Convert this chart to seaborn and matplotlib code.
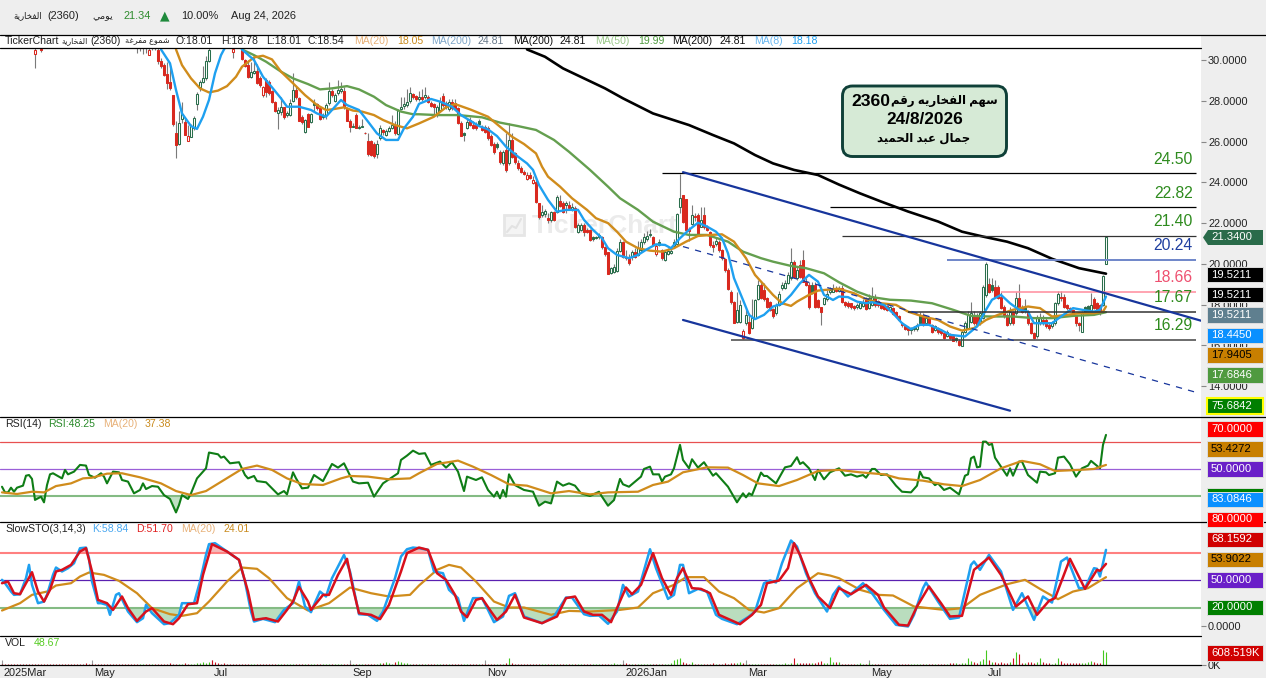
import numpy as np
import pandas as pd
import matplotlib
matplotlib.use("Agg")
import matplotlib.pyplot as plt
import seaborn as sns
from matplotlib.patches import Rectangle, FancyBboxPatch, Polygon
from matplotlib.transforms import Affine2D, ScaledTranslation
from matplotlib.lines import Line2D

nan = float("nan")

# ---- candles, one entry per trading bar (nan = above the visible range)
opens = [nan]*11 + [30.3, nan, 30.55] + [nan]*31 + [
 31,31,31,30.7,30.25,30.9,30.8,30.49,29.95,29.75,
 29.3,28.94,28.28,26.4,25.88,27.1,26.97,26.05,26.24,26.65,
 27.84,28.66,28.9,29.1,29.95] + [nan]*7 + [30.4] + [nan]*2 + [
 30.49,30.0,29.75,29.18,29.35,29.46,29.1,28.28,29.0,28.94,
 28.48,27.96,27.4,27.47,27.68,27.3,27.3,28.0,28.53,28.12,
 27.22,26.45,27.34,26.94,27.87,27.84,27.63,27.22,27.3,27.9,
 28.48,28.0,28.4,28.5,28.5,27.62,27.03,26.7,27.3,26.68,
 26.72,26.44,26.04,26.04,25.9,25.39,26.16,26.55,26.3,26.52,
 26.65,26.8,26.37,27.6,27.75,27.8,27.99,28.33,28.25,28.1,
 28.2,28.2,28.2,27.87,27.82,27.42,27.55,28.23,27.87,27.58,
 27.92,27.87,27.63,26.93,26.4,26.65,27.06,26.81,26.81,27.0,
 26.73,26.73,26.65,26.27,25.9,25.9,25.5,24.93,25.59,24.93,
 26.08,25.42,24.93,24.69,24.53,24.15,24.36,23.95,24.0,22.97,
 22.4,22.45,22.24,22.16,22.53,22.56,23.07,22.97,22.9,22.89,
 22.65,22.73,21.58,21.66,21.91,21.66,21.66,21.3,21.3,21.3,
 21.3,20.85,20.57,19.54,19.62,19.67,20.65,21.06,20.36,20.36,
 20.36,20.57,20.44,20.68,21.09,21.2,21.4,21.3,20.49,21.06,
 20.68,20.2,20.5,20.55,20.9,21.0,22.8,23.38,23.18,21.7,
 21.94,22.3,22.4,21.83,22.4,21.83,21.55,20.93,21.0,21.08,
 20.7,20.23,19.7,18.6,18.12,17.17,17.17,16.35,17.12,17.17,
 16.85,17.33,18.3,18.97,18.72,18.31,18.15,17.78,17.58,17.99,
 18.8,18.8,19.05,19.3,20.08,19.3,19.95,20.2,19.13,18.97,
 18.97,18.97,18.23,17.87,18.04,18.28,18.6,18.64,18.8,18.65,
 18.81,18.15,18.1,18.07,17.94,17.88,17.83,17.94,18.32,17.83,
 17.99,18.37,18.2,18.07,18.07,17.94,17.75,17.83,17.66,17.45,
 17.09,16.93,16.85,16.85,16.82,16.8,17.5,17.5,17.09,17.33,
 17.01,16.76,16.85,16.76,16.6,16.44,16.52,16.47,16.36,16.24,
 15.98,16.68,16.85,17.17,17.5,17.42,17.09,17.33,18.48,19.02,
 18.97,18.89,18.89,18.4,17.91,17.5,17.09,17.63,17.58,18.32,
 17.91,17.83,17.66,17.09,16.6,16.44,17.09,17.25,17.25,17.01,
 16.93,17.09,18.07,18.4,18.4,17.99,17.85,17.75,17.45,17.09,
 16.68,17.91,17.94,17.75,18.27,18.07,17.99,17.99,20.0]

closes = [nan]*11 + [30.5, nan, 30.5] + [nan]*31 + [
 31,31,31,30.8,30.5,30.8,30.6,29.95,29.7,29.26,
 28.86,28.61,26.86,25.83,26.9,27.33,26.32,26.27,26.76,27.14,
 28.33,28.9,29.1,29.95,30.49] + [nan]*7 + [30.55] + [nan]*2 + [
 30.05,29.72,29.15,29.43,29.46,28.86,28.78,28.69,28.45,28.37,
 27.92,27.5,27.55,27.68,27.19,27.38,27.87,28.53,28.17,27.03,
 26.98,27.06,26.73,27.34,27.79,27.63,27.09,27.3,27.8,28.48,
 28.28,28.3,28.55,28.56,27.68,27.03,26.73,26.78,26.65,26.72,
 26.76,26.4,25.39,25.34,25.3,25.9,26.65,26.45,26.5,26.68,
 26.8,26.4,27.55,27.7,27.83,27.96,28.37,28.2,28.1,28.2,
 28.1,28.28,27.96,27.74,27.71,27.72,27.95,27.79,27.68,27.92,
 27.63,27.62,26.93,26.29,26.32,26.98,26.81,26.68,26.66,26.87,
 26.57,26.48,26.16,25.83,25.5,25.72,25.0,25.5,24.6,26.08,
 25.26,25.0,24.69,24.53,24.41,24.36,24.2,24.1,23.05,22.29,
 22.53,22.6,22.16,22.53,22.16,23.27,22.84,22.56,22.97,22.73,
 22.78,21.83,21.91,21.91,21.58,21.55,21.18,21.2,21.25,21.42,
 20.82,20.49,19.51,19.79,19.84,20.65,21.06,20.36,20.28,20.03,
 20.57,20.36,20.76,21.09,21.3,21.35,21.45,20.95,20.88,20.93,
 20.28,20.6,20.62,20.65,21.05,22.45,23.22,22.07,21.67,21.6,
 22.4,22.35,21.42,22.16,21.8,21.67,20.93,20.82,21.12,20.68,
 20.28,19.7,18.76,18.12,17.12,17.74,17.99,16.72,17.5,16.6,
 17.33,18.23,18.97,18.32,18.28,17.9,17.74,17.42,17.99,18.53,
 18.97,19.05,19.46,20.08,19.38,19.7,19.38,19.13,18.97,17.87,
 18.6,17.9,17.88,17.66,18.31,18.53,18.7,18.8,18.65,18.75,
 18.15,17.99,17.94,17.88,17.83,17.99,18.07,18.1,17.78,18.32,
 18.43,17.99,17.97,17.83,17.78,17.75,17.9,17.55,17.45,17.25,
 16.98,16.8,16.76,16.78,16.85,17.01,17.09,17.01,17.33,17.09,
 16.68,16.93,16.68,16.6,16.36,16.68,16.36,16.24,16.26,16.03,
 16.68,17.09,17.5,17.58,17.09,17.01,17.58,18.89,20.0,18.64,
 18.73,18.4,18.32,17.83,17.42,17.01,17.66,17.09,18.32,17.83,
 17.66,17.75,17.09,16.6,16.36,17.33,17.39,17.09,16.93,16.85,
 17.09,18.07,18.51,18.32,17.91,17.83,17.75,17.55,17.09,17.01,
 17.58,17.66,17.7,17.99,17.83,17.66,17.58,19.41,21.31]

highs = [nan]*11 + [31.0, nan, 30.8] + [nan]*31 + [
 31,31,31,31,31,31,31,30.8,30.1,29.85,
 29.9,29.7,28.3,27.0,27.5,27.95,27.1,26.8,26.85,27.25,
 28.45,29.0,29.7,30.2,30.6] + [nan]*7 + [31.0] + [nan]*2 + [
 30.8,30.05,30.0,29.9,30.2,29.8,29.2,28.75,29.1,29.0,
 28.55,28.0,27.7,28.2,27.7,27.5,28.1,29.35,28.7,28.2,
 27.3,27.1,27.4,27.4,28.1,27.9,27.7,27.4,27.9,28.94,
 28.6,28.4,29.0,28.9,28.7,27.7,27.1,26.9,27.4,26.8,
 27.1,26.45,26.4,26.1,26.0,26.1,26.8,26.6,26.6,26.75,
 27.3,27.0,27.6,28.2,28.2,28.6,28.7,28.4,28.3,28.5,
 28.6,28.7,28.3,28.0,27.9,27.8,28.2,28.4,28.0,28.1,
 28.1,28.1,27.7,27.0,26.45,27.1,27.2,27.0,26.95,27.1,
 26.8,26.8,26.75,26.35,26.0,26.0,25.6,25.6,26.4,26.9,
 26.4,25.5,25.1,24.8,24.6,24.5,24.5,24.3,24.1,23.0,
 22.9,22.7,22.5,22.6,22.6,23.4,23.4,23.1,23.1,23.1,
 23.0,22.85,22.0,22.0,22.0,21.75,21.7,21.35,21.35,21.5,
 21.35,20.9,20.6,19.85,20.0,20.8,21.2,21.1,20.7,20.5,
 20.7,20.8,21.1,21.2,21.5,21.6,21.7,21.35,21.0,21.2,
 20.75,20.7,20.8,20.75,21.2,22.5,24.41,23.4,23.2,21.8,
 22.9,22.5,22.5,22.8,22.8,21.9,21.6,21.1,21.3,21.15,
 20.75,20.3,19.8,18.7,18.2,18.6,18.25,16.8,17.8,17.6,
 18.3,18.3,19.2,19.1,19.05,18.4,18.2,17.85,18.1,18.65,
 19.1,19.2,19.6,20.8,20.2,19.9,20.2,20.7,19.3,19.1,
 19.1,19.1,18.3,17.9,18.4,18.7,18.85,19.0,18.9,18.9,
 18.95,18.2,18.2,18.1,18.0,18.1,18.2,18.3,18.4,18.5,
 18.85,18.5,18.25,18.1,18.1,18.0,17.95,17.9,17.7,17.5,
 17.15,17.0,16.95,16.9,16.95,17.1,17.65,17.6,17.5,17.4,
 17.05,17.0,16.9,16.8,16.65,16.75,16.6,16.5,16.4,16.3,
 16.75,17.2,17.7,18.15,17.7,17.6,17.7,18.95,20.1,19.3,
 19.3,19.2,18.95,18.6,18.0,17.6,17.9,17.7,18.6,19.0,
 18.0,18.3,17.75,17.15,16.65,17.5,17.6,17.5,17.35,17.1,
 17.2,18.15,18.65,18.65,18.5,18.05,17.9,17.8,17.5,17.15,
 17.7,17.95,18.0,18.55,18.4,18.15,18.05,19.45,21.34]

lows = [nan]*11 + [29.6, nan, 30.4] + [nan]*31 + [
 30.33,30.45,30.3,30.35,30.25,30.5,30.5,29.8,29.6,29.2,
 28.6,28.55,26.76,25.18,25.85,26.9,26.3,26.05,26.2,26.55,
 27.55,28.5,28.85,29.0,29.9] + [nan]*7 + [30.08] + [nan]*2 + [
 30.0,29.65,29.1,29.1,29.3,28.8,28.7,28.2,28.2,28.3,
 27.9,27.45,26.6,27.3,27.1,27.2,27.25,27.95,28.1,27.0,
 26.85,26.4,26.7,26.9,27.5,27.55,27.05,27.1,27.1,27.8,
 28.2,27.95,28.3,28.4,27.6,27.0,26.45,26.7,26.65,26.6,
 26.7,26.35,25.3,25.3,25.18,25.2,26.1,26.3,26.25,26.45,
 26.6,26.3,26.3,27.55,27.6,27.7,27.9,28.1,28.0,28.0,
 28.0,28.1,27.9,27.7,27.3,27.2,27.5,27.7,27.6,27.5,
 27.55,27.55,26.85,26.25,26.05,26.6,26.75,26.6,26.55,26.8,
 26.5,26.4,26.1,25.8,25.4,25.65,24.9,24.85,24.5,24.85,
 25.2,24.9,24.6,24.45,24.35,24.1,24.15,23.9,23.0,22.2,
 22.3,22.3,22.0,22.05,22.1,22.5,22.8,22.5,22.5,22.65,
 22.6,21.75,21.5,21.6,21.35,21.5,21.1,21.1,21.2,21.2,
 20.75,20.4,19.5,19.5,19.55,19.6,20.6,20.3,20.2,19.95,
 20.2,20.3,20.4,20.6,21.0,21.1,21.3,20.9,20.4,20.9,
 20.2,20.15,20.45,20.5,20.8,21.0,22.5,22.0,21.6,21.1,
 21.9,22.1,21.4,21.8,21.7,21.6,20.85,20.6,20.9,20.6,
 20.2,19.6,18.7,18.05,17.1,17.1,17.1,16.3,17.0,16.55,
 16.8,17.3,18.25,18.3,18.2,17.85,17.7,17.35,17.5,17.95,
 18.7,18.75,19.0,19.2,19.3,19.2,19.3,19.1,18.9,17.8,
 18.5,17.85,17.85,17.0,18.0,18.2,18.5,18.6,18.6,18.6,
 18.1,17.9,17.85,17.8,17.75,17.8,17.8,17.9,17.75,17.8,
 17.95,17.9,17.9,17.8,17.75,17.7,17.7,17.5,17.4,17.2,
 16.9,16.75,16.5,16.55,16.7,16.7,17.05,16.95,17.0,17.0,
 16.6,16.7,16.55,16.5,16.3,16.4,16.3,16.2,16.15,15.95,
 15.95,16.6,16.8,17.1,17.0,16.95,17.0,17.3,18.4,18.55,
 18.6,18.35,18.3,17.8,17.35,16.95,17.0,17.0,17.5,17.8,
 17.6,17.6,17.0,16.55,16.3,16.35,17.0,17.0,16.85,16.75,
 16.85,17.0,18.0,18.2,17.85,17.75,17.7,17.5,16.95,16.7,
 16.65,17.6,17.6,17.7,17.8,17.6,17.5,17.95,19.99]

volume_k = [
 40,35,45,30,35,40,30,45,35,40, 45,55,40,60,35,30,40,35,45,40,
 40,45,35,50,40,55,45,60,75,50, 60,40,35,30,40,35,30,45,35,30,
 35,30,40,35,30,45,60,50,40,55, 60,45,50,70,60,50,80,60,55,65,
 50,75,60,55,65,90,110,130,95,160, 235,120,90,60,75,50,60,45,55,40,
 45,50,35,60,40,45,55,40,50,35, 40,45,35,50,40,35,45,55,40,60,
 70,50,60,45,55,60,40,50,35,45, 40,55,60,50,45,40,50,60,70,50,
 45,60,70,55,40,60,90,110,120,95, 60,130,180,140,100,75,70,60,50,40,
 50,60,40,45,55,70,35,55,40,50, 40,45,50,35,40,30,60,55,40,45,
 35,50,40,45,65,50,60,70,90,310, 90,55,50,40,35,30,60,65,60,40,
 45,40,35,50,45,40,55,50,40,30, 45,40,50,35,40,30,45,35,40,50,
 35,45,40,55,75,45,60,50,90,40, 35,45,40,50,60,55,45,55,50,50,
 60,70,50,80,235,260,345,160,80,70, 160,60,45,50,60,70,50,80,60,50,
 70,80,60,90,110,95,120,85,70,60, 50,55,45,50,60,45,50,60,55,70,
 60,80,70,100,310,90,110,80,100,90, 85,110,120,175,100,90,390,140,120,150,
 60,50,70,65,55,45,75,55,60,90, 70,50,60,45,55,60,45,50,40,45,
 45,50,40,55,40,50,45,60,50,45, 55,40,50,45,50,55,100,90,85,70,
 110,75,310,190,120,80,170,280,700,220, 130,150,110,120,110,90,160,340,630,520,
 110,100,130,150,110,140,340,120,90,100, 70,90,310,180,90,100,80,90,100,100,
 90,110,120,190,130,100,90,700,608.52]

# ---- moving averages on the price pane
ma8_bars = [53,56,58,60,63,65,67,69,71,73,74,76,79,80,84,87,90,93,95,97,99,103,105,108,110,113,115,119,122,125,128,132,134,137,139,143,146,150,153,156,159,162,165,168,172,175,177,179,182,185,188,192,194,197,200,202,205,207,209,212,215,218,221,223,226,229,232,235,238,240,242,244,247,249,251,254,257,260,263,266,269,272,274,277,279,282,285,288,290,294,297,300,303,306,309,313,316,321,325,328,330,333,336,339,342,344,347,350,353,357,360,364,366,368]
ma8 = [30.52,29.84,28.53,27.38,26.76,26.62,27.22,28.04,29.35,30.24,30.52,31,31,30.52,30,29.18,28.66,28.12,27.71,27.71,27.71,27.55,27.38,27.22,27.55,28.04,27.79,27.55,26.98,26.4,26.08,26.08,26.65,27.22,27.85,28.09,27.96,27.71,27.3,27.03,26.76,26.6,26.27,25.75,25.26,24.93,24.61,23.87,23.14,22.56,22.65,22.65,22.16,21.67,21.26,20.77,20.44,20.36,20.28,20.44,20.72,20.96,20.93,20.77,21.26,21.67,22.02,21.83,21.58,21.26,20.52,19.3,18.23,17.5,17.29,17.5,17.91,18.04,18.48,19.05,19.46,19.13,18.48,18.23,18.4,18.37,18.15,18.07,18.12,17.99,17.58,17.09,16.8,17.01,17.01,16.76,16.52,16.44,16.93,17.75,18.24,18.48,18.07,17.75,17.66,17.09,17.09,17.09,17.42,17.83,17.75,17.66,17.75,18.4]

ma20_bars = [58,60,63,66,69,72,75,78,80,84,87,90,93,97,101,105,108,110,114,117,120,124,127,131,135,139,144,148,151,156,162,166,170,174,178,180,182,186,190,195,198,202,205,208,212,216,220,224,228,232,236,240,244,248,251,254,257,260,263,265,269,272,277,279,284,288,293,298,302,307,312,316,320,324,328,332,337,342,346,350,355,359,364,367,368]
ma20 = [30.52,29.75,29.1,28.61,28.41,28.5,28.72,29.18,29.67,30.13,30.21,30.03,29.43,28.86,28.28,27.79,27.55,27.58,27.68,27.52,27.47,27.3,27.06,26.81,26.65,26.89,27.22,27.68,27.84,27.58,27.22,26.73,26.24,25.88,25.42,24.77,24.28,23.79,23.22,22.65,22.24,22.0,21.58,21.09,20.77,20.65,20.6,20.77,21.09,21.37,21.42,21.45,21.09,20.28,19.46,18.97,18.48,18.07,17.94,18.15,18.48,18.69,18.76,18.78,18.56,18.27,18.07,17.99,17.66,17.42,17.25,16.93,16.73,16.85,17.25,17.5,17.75,17.91,17.83,17.42,17.5,17.58,17.58,17.66,17.91]

ma50_bars = [80,84,88,93,97,102,106,110,115,119,124,128,133,137,139,145,152,160,166,172,178,184,189,196,202,206,212,217,224,229,235,242,247,253,257,263,268,274,279,285,290,296,303,310,317,323,329,337,344,350,357,364,368]
ma50 = [30.52,30.24,29.92,29.43,29.1,28.82,28.56,28.61,28.72,28.56,28.2,27.79,27.47,27.34,27.34,27.3,27.3,27.19,26.93,26.76,26.57,26.08,25.5,24.61,23.79,23.22,22.65,22.07,21.58,21.42,21.42,21.09,20.6,20.28,20.11,19.9,19.79,19.54,19.1,18.64,18.37,18.24,18.2,18.07,17.75,17.45,17.42,17.42,17.34,17.34,17.45,17.5,17.63]

ma200_bars = [175,181,187,194,201,207,217,229,237,244,251,257,264,272,279,286,293,302,312,320,327,335,342,350,359,368]
ma200 = [30.52,30.16,29.59,29.1,28.61,28.12,27.38,26.81,26.32,25.91,25.34,24.93,24.61,24.36,23.89,23.46,23.06,22.57,22.08,21.58,21.34,21.09,20.77,20.25,19.79,19.52]

# ---- RSI pane
rsi_bars = [0,1,2,3,4,5,7,8,9,10,11,12,13,14,15,16,17,19,20,21,22,24,26,28,29,31,33,34,35,37,39,40,42,44,46,47,48,50,52,54,56,58,59,60,62,63,65,67,68,69,72,73,74,76,79,81,82,84,85,88,92,94,95,97,98,100,102,104,107,110,112,114,117,119,122,124,127,132,133,135,137,139,
 141,143,146,148,150,152,154,155,158,160,162,164,165,166,167,168,169,171,174,177,179,181,183,185,187,189,191,193,196,199,200,202,204,206,207,209,213,214,216,217,219,220,221,223,224,226,227,229,230,232,234,237,238,242,245,247,248,249,250,253,254,255,258,261,263,265,266,267,269,271,272,274,276,279,
 281,283,285,287,288,290,291,293,295,298,300,303,305,306,307,309,311,312,314,316,319,321,322,323,324,325,326,327,328,329,330,331,335,336,337,339,340,342,345,346,348,349,351,352,354,356,358,360,362,363,366,367,368]
rsi = [36.8,32.6,32.6,36.1,33.1,36.1,37.6,45,45.5,42.6,27,28.2,29.4,25.2,38,46,46.8,44.3,43,49.3,46,48,53,52.5,45.5,43.5,46.8,44.3,39.3,48,47.5,41.8,40.6,31.9,34.4,39.3,35.1,37.3,36.8,30.6,27.7,17.7,23.2,30.6,27.7,31.9,43,48,50.5,62.2,60.9,58.4,59.2,54.2,55,45.5,43,44.8,41,40.1,31.1,33.6,31.1,47.5,43,35.6,36.1,45.5,41,53.7,51,54.2,40.6,39.3,39.8,29.4,39.3,46.8,56.7,59.9,63.6,61.2,
 61.7,53,55.5,51,55,48,33.6,44.3,41.8,43.8,34.4,29.4,33.1,28.2,34.4,29.4,46,38,34.4,33.1,22.7,25.7,24.4,40.6,37.6,39.3,37.6,31.9,29.9,33.1,29.4,22.7,26.9,42.6,38.6,36.8,44.3,50,51.7,46,46,40.6,44.3,46,50.5,67.9,56.7,50.5,57.2,51,55,45,46.8,36.8,25.2,31.9,28.9,31.9,30.6,47.3,44.8,44.8,39.3,51.2,52.2,58.7,53.7,55,50.5,41.8,49.3,42.3,47.5,50.5,
 45,46,44.3,45.5,43.5,50,50,45.5,46,37.6,33.1,32.6,37.6,48,43.8,43,38,39.3,34.4,36.1,31.1,45,46,57.9,59.2,51.2,51.7,70.3,70.3,67.9,68.6,58.4,45,50.5,45,55.5,55.5,45.5,39.8,48,47.5,45.5,46.8,58.4,59.2,53.5,44.3,50.5,52.5,56,50.5,67.9,75.3]

rsi_ma_bars = [0,5,10,14,18,23,27,30,35,40,46,53,58,63,68,74,80,85,90,95,100,107,113,116,122,129,136,139,145,152,157,163,169,175,183,189,196,202,212,217,222,227,235,242,247,252,259,265,272,279,286,294,299,307,314,320,326,333,340,346,351,359,364,368]
rsi_ma = [32.6,31.4,33.1,32.6,37.3,39.3,43,43.5,46.5,46.8,43.8,39.3,33.6,30.6,33.6,41.8,50,52.5,49.3,43,38.8,38.1,43,44.8,44.3,42.3,43,46.8,53.7,56.2,51.7,45.5,38.6,37.6,31.9,33.6,31.1,32.6,33.1,38.1,40.6,47.5,51.2,51,45.5,39.3,37.3,41.8,48.5,49.3,47.5,46,43,41.3,38.6,37.3,41.8,50.5,56,53.5,48.5,49.3,50,53]

# ---- slow stochastic pane
k_bars = [0,1,3,4,6,8,9,10,12,14,15,17,18,20,22,24,26,28,29,30,32,33,35,36,38,39,42,45,47,48,50,54,56,59,60,62,64,66,68,69,71,75,79,81,83,84,87,91,94,97,99,101,103,104,106,108,110,114,116,119,122,125,127,131,133,135,137,139,
 142,144,147,149,152,154,157,160,162,164,167,169,171,174,180,184,188,190,194,196,199,202,205,207,209,212,216,218,222,224,226,227,229,232,235,238,240,245,249,251,254,256,258,260,263,265,268,271,275,277,279,
 282,287,290,294,298,302,304,307,308,312,316,319,323,324,326,329,333,337,340,344,347,350,353,355,359,361,364,365,366,368]
sto_k = [50.4,46.7,37.6,34,34.7,52.2,66.7,44.9,24.9,26.7,34,55.8,63.8,59.5,63.1,68.5,84.9,85.6,74,48.5,24.9,24.9,23.1,12.2,34,35.8,15.8,4.2,8.5,23.1,14,2,3.1,12.2,24.9,24.9,24.9,48.5,77.6,89.3,90.4,81.3,72.2,48.5,15.8,4.9,7.8,4.2,17.6,24.9,48.5,21.3,15.1,23.1,37.6,32.2,52.2,77.6,59.5,12.9,12.2,5.6,15.8,52.2,75.8,83.8,85.6,84.9,
 83.1,59.5,57.6,39.5,30.4,5.6,30.4,30.4,17.6,4.2,10.4,32.9,35.8,10.4,3.1,10.4,31.1,31.1,12.9,11.1,11.5,2.4,15.8,44.9,32.2,37.6,83.8,63.1,29.6,34,66.7,66.7,35.8,40.5,37.6,12.2,7.8,2,10.4,15.8,46.7,49.6,47.5,68.5,93.3,86.7,57.6,35.8,15.8,34,43.1,
 32.2,46.7,35.8,17.6,1.3,-0.5,12.2,41.3,47.5,26.7,7.8,9.3,66.7,70.4,61.3,77.6,59.5,17.6,35.8,6.7,32.2,25.6,70.4,74.7,41.3,41.3,63.1,62.4,54,83.1]

d_bars = [0,2,4,6,8,10,12,14,16,18,20,23,26,28,30,32,35,37,40,42,45,48,50,54,57,59,62,65,67,70,75,79,82,84,88,92,95,97,99,102,103,107,109,112,115,117,119,123,126,129,133,135,139,
 142,145,148,151,153,155,158,160,163,165,168,171,174,180,185,188,191,194,197,200,203,205,208,210,213,217,220,223,225,227,230,233,236,239,246,250,253,255,259,262,264,266,269,272,276,279,
 283,288,292,294,299,302,305,309,313,316,320,324,326,329,333,338,342,345,349,351,356,361,365,366,368]
sto_d = [46.7,48.5,35.8,34.7,46.7,58.7,37.6,26.7,39.5,59.5,61.3,66.7,81.3,84.9,59.5,28.5,24.9,17.6,32.2,19.5,5.6,15.8,19.5,4.9,2,8.5,23.8,24.9,55.8,89.3,81.3,72.2,37.6,6.7,8.5,4.9,17.6,26.7,42.7,26.7,17.6,34,34,55.8,73.3,41.3,14,12.2,7.5,23.1,59.5,79.5,85.6,
 83.1,57.6,50.4,34,15.8,9.6,28.5,30.4,15.8,6.7,15.8,34,9.3,3.1,10.4,30.4,32.2,15.8,12.2,12.2,4.2,19.5,42,34.7,44.9,79.5,52.2,34,52.2,63.1,41.3,40.5,35.8,12.2,2,12.2,23.1,46.7,49.6,63.1,90.4,77.6,52.2,32.2,19.5,41.3,
 34.7,44.9,34,20.2,1.3,0.5,21.3,43.1,24.9,10.4,11.1,61.3,66.7,74.7,55.8,21.3,32.2,12.2,27.5,30.4,73.3,40.5,61.3,60.2,67.8]

sto_ma_bars = [0,6,10,15,18,23,26,29,34,39,45,50,56,60,65,69,75,80,85,89,95,102,109,116,123,129,136,139,145,149,153,158,164,169,174,183,189,196,206,212,217,224,228,234,239,244,249,254,259,265,272,276,279,286,292,297,304,314,320,326,335,341,346,352,357,362,368]
sto_ma = [16.9,24.9,34,37.6,44.2,46.7,54,58.4,55.8,49.3,35.8,19.5,12.9,11.1,14,26.7,48.5,63.8,62.4,52.2,30.4,16.9,24.9,42,35.8,32.2,34,44.2,61.3,66.7,63.8,48.5,26.7,20.2,20.2,12.2,16.5,15.8,17.6,20.2,35.8,44.9,53.3,53.3,37.6,30.4,17.6,14.7,19.5,41.3,57.6,55.1,52.2,39.5,34,33.3,21.3,17.6,19.5,34,45.6,50.4,40.5,29.3,37.6,41.3,53.3]

# ---- axis text
price_ticks = [30, 28, 26, 24, 22, 20, 18, 16, 14]
month_bars = [0, 30, 70, 116, 161, 207, 248, 289, 328]
month_labels = ["2025Mar", "May", "Jul", "Sep", "Nov", "2026Jan", "Mar", "May", "Jul"]

level_values = [24.47, 22.80, 21.37, 20.20, 18.61, 17.63, 16.27]
level_start_bars = [220, 276, 280, 315, 333, 302, 243]
level_labels = ["24.50", "22.82", "21.40", "20.24", "18.66", "17.67", "16.29"]

# ---- small Arabic shaper, matplotlib does not join the letters itself
FOUR_FORM = {"ب": 0xFE8F, "ج": 0xFE9D, "ح": 0xFEA1, "خ": 0xFEA5, "س": 0xFEB1, "ش": 0xFEB5,
             "ع": 0xFEC9, "غ": 0xFECD, "ف": 0xFED1, "ق": 0xFED5, "ل": 0xFEDD, "م": 0xFEE1,
             "ه": 0xFEE9, "ي": 0xFEF1}
TWO_FORM = {"ا": 0xFE8D, "ة": 0xFE93, "د": 0xFEA9, "ر": 0xFEAD, "و": 0xFEED}


def shape_word(word):
    out = []
    for n, ch in enumerate(word):
        before = n > 0 and word[n - 1] in FOUR_FORM
        after = n < len(word) - 1 and (word[n + 1] in FOUR_FORM or word[n + 1] in TWO_FORM)
        if ch in TWO_FORM:
            out.append(chr(TWO_FORM[ch] + (1 if before else 0)))
        elif ch in FOUR_FORM:
            base = FOUR_FORM[ch]
            if before and after:
                out.append(chr(base + 3))
            elif after:
                out.append(chr(base + 2))
            elif before:
                out.append(chr(base + 1))
            else:
                out.append(chr(base))
        else:
            out.append(ch)
    return "".join(reversed(out))


def ar(text):
    words = []
    for w in text.split(" "):
        words.append(shape_word(w) if w[0] in FOUR_FORM or w[0] in TWO_FORM else w)
    return " ".join(reversed(words))


# ---- figure
W, H = 1266, 678
sns.set_theme(style="white")
plt.rcParams["font.family"] = ["Liberation Sans", "DejaVu Sans"]
GRAY = "#eeeeee"
fig = plt.figure(figsize=(W / 100, H / 100), dpi=100, facecolor=GRAY)
px = Affine2D().scale(1, -1).translate(0, H)


def pane(top, bottom):
    ax = fig.add_axes([0, 1 - bottom / H, 1201 / W, (bottom - top) / H], facecolor="white")
    for s in ax.spines.values():
        s.set_visible(False)
    ax.set_xlim(-2 / 3, 1199 / 3)
    ax.set_xticks([])
    ax.yaxis.tick_right()
    ax.tick_params(axis="y", length=3.6, width=0.8, color="#888888", labelsize=7.9, pad=1.5, labelcolor="#222222")
    return ax


ax_price = pane(48, 417)
ax_rsi = pane(417, 522)
ax_sto = pane(522, 636)
ax_vol = pane(636, 665)

ax_price.set_ylim(12.49, 30.59)
ax_rsi.set_ylim(10.6, 88.6)
ax_sto.set_ylim(-10.9, 113.5)
ax_vol.set_ylim(0, 1363)

ax_price.set_yticks(price_ticks, [f"{t:.4f}" for t in price_ticks])
ax_rsi.set_yticks([])
ax_sto.set_yticks([0], ["0.0000"])
ax_vol.set_yticks([0], ["0K"])

# watermark
ax_price.add_patch(Rectangle((504, 215), 20, 20, transform=px, fc="#f4f4f4", ec="#e6e6e6", lw=2, zorder=0.5))
ax_price.add_line(Line2D([507, 512, 516, 521], [232, 226, 228, 219], transform=px, color="#e2e2e2", lw=1.5, zorder=0.6))
ax_price.text(532, 226, "TickerChart", transform=px, color="#ebebeb", fontsize=19, fontweight="bold",
              va="center", ha="left", zorder=0.5)

# candles
df = pd.DataFrame({"o": opens, "c": closes, "h": highs, "l": lows})
df["bar"] = np.arange(len(df))
df["up"] = df["c"] >= df["c"].shift()
shown = df.dropna(subset=["o"])
ax_price.vlines(shown["bar"], shown["l"], shown["h"], color="#7a7a7a", lw=0.8, zorder=2)
GREEN_C, RED_C = "#2a6e4c", "#d9291f"
for _, r in shown.iterrows():
    colour = GREEN_C if r["up"] else RED_C
    hollow = r["c"] >= r["o"]
    ax_price.bar(r["bar"], abs(r["c"] - r["o"]), bottom=min(r["o"], r["c"]), width=0.8,
                 facecolor="white" if hollow else colour, edgecolor=colour, linewidth=0.75, zorder=3)

# moving averages
for bars, vals, colour, lw in [(ma50_bars, ma50, "#649f4f", 1.7), (ma20_bars, ma20, "#d08c1c", 1.7),
                               (ma8_bars, ma8, "#1ea0f0", 1.7), (ma200_bars, ma200, "black", 1.9)]:
    sns.lineplot(x=bars, y=vals, ax=ax_price, color=colour, lw=lw, estimator=None, legend=False, zorder=4)

# drawn levels
level_colours = ["black", "black", "#333333", "#6f86c9", "#ff8c9c", "#333333", "#444444"]
level_widths = [0.9, 0.9, 0.9, 1.4, 1.1, 1.1, 1.1]
for value, start, colour, lw in zip(level_values, level_start_bars, level_colours, level_widths):
    ax_price.hlines(value, start, 398, color=colour, lw=lw, zorder=5)

# channel
CHANNEL = "#17359c"
ax_price.plot([227, 400], [24.5, 17.2], color=CHANNEL, lw=1.6, zorder=5)
ax_price.plot([227, 336], [17.25, 12.8], color=CHANNEL, lw=1.6, zorder=5)
ax_price.plot([227, 398], [20.85, 13.7], color=CHANNEL, lw=0.9, ls=(0, (5, 5)), zorder=5)

# RSI
rsi_x, rsi_y = np.array(rsi_bars), np.array(rsi)
ax_rsi.axhline(70, color="#e85050", lw=0.9)
ax_rsi.axhline(50, color="#9a5fd8", lw=0.9)
ax_rsi.axhline(30, color="#84bb84", lw=1.5)
ax_rsi.fill_between(rsi_x, rsi_y, 30, where=rsi_y < 30, interpolate=True, color="#2f9a3a", alpha=0.3, lw=0)
sns.lineplot(x=rsi_bars, y=rsi, ax=ax_rsi, color="#0f7d16", lw=1.5, estimator=None, legend=False, zorder=3)
sns.lineplot(x=rsi_ma_bars, y=rsi_ma, ax=ax_rsi, color="#d08c1c", lw=1.6, estimator=None, legend=False, zorder=4)

# slow stochastic
k_x, k_y = np.array(k_bars), np.array(sto_k)
ax_sto.axhline(80, color="#ff8080", lw=1.5)
ax_sto.axhline(50, color="#5a20b0", lw=0.9)
ax_sto.axhline(20, color="#84bb84", lw=1.5)
ax_sto.fill_between(k_x, k_y, 20, where=k_y < 20, interpolate=True, color="#2f9a3a", alpha=0.33, lw=0)
ax_sto.fill_between(k_x, k_y, 80, where=k_y > 80, interpolate=True, color="#e03030", alpha=0.33, lw=0)
sns.lineplot(x=sto_ma_bars, y=sto_ma, ax=ax_sto, color="#d08c1c", lw=1.6, estimator=None, legend=False, zorder=3)
sns.lineplot(x=k_bars, y=sto_k, ax=ax_sto, color="#1ea0f0", lw=1.8, estimator=None, legend=False, zorder=4)
sns.lineplot(x=d_bars, y=sto_d, ax=ax_sto, color="#d8101c", lw=1.8, estimator=None, legend=False, zorder=5)

# volume
vol_x = np.arange(len(volume_k))
up = df["up"].to_numpy()[:len(volume_k)]
ax_vol.vlines(vol_x, 0, volume_k, colors=np.where(up, "#45c81e", "#cf1020"), lw=0.8)
ax_vol.set_xticks(month_bars, month_labels)
ax_vol.tick_params(axis="x", direction="in", bottom=True, length=3.6, width=0.8, color="#999999",
                   labelsize=7.9, pad=2.5, labelcolor="#222222")
offset = ScaledTranslation(2 / 100, 0, fig.dpi_scale_trans)
for lab in ax_vol.get_xticklabels():
    lab.set_ha("left")
    lab.set_transform(lab.get_transform() + offset)

# header and strip
fig.add_artist(Rectangle((0, 35), 1201, 13, transform=px, fc="white", ec="none"))
for x0, x1, y in [(0, W, 35), (0, 1201, 48), (0, W, 417), (0, W, 522), (0, 1201, 636), (0, 1201, 665)]:
    fig.add_artist(Line2D([x0, x1], [y, y], transform=px, color="black", lw=0.9, zorder=3))


def put(x, y, s, colour="#222222", size=7.9, ha="left", **kw):
    fig.text(x, y, s, transform=px, color=colour, fontsize=size, ha=ha, va="center", zorder=6, **kw)


put(13, 16, ar("الفخارية"), size=6.2)
put(47, 16, "(2360)")
put(92, 16, ar("يومي"), size=6.8)
put(124, 16, "21.34", colour="#2e8b2e")
put(160, 16, "▲", colour="#1f8a3c", size=9, family="DejaVu Sans")
put(181, 16, "10.00%")
put(231, 16, "Aug 24, 2026")

S = 7.6
put(5, 41.5, "TickerChart", size=S)
put(61, 41.5, ar("الفخارية"), size=5.7)
put(90, 41.5, "(2360)", size=S)
put(125, 41.5, ar("شموع مفرغة"), size=5.9)
for x, s, c in [(176, "O:18.01", "#222222"), (221, "H:18.78", "#222222"), (266, "L:18.01", "#222222"),
                (308, "C:18.54", "#222222"), (354, "MA(20)", "#e8b27a"), (397, "18.05", "#c98a1c"),
                (431, "MA(200)", "#7fa6c8"), (478, "24.81", "#667788"), (513, "MA(200)", "#111111"),
                (560, "24.81", "#111111"), (595, "MA(50)", "#9cc98c"), (638, "19.99", "#4f9a3f"),
                (672, "MA(200)", "#111111"), (719, "24.81", "#111111"), (754, "MA(8)", "#6bb8f0"),
                (791, "18.18", "#1e9ff0")]:
    put(x, 41.5, s, colour=c, size=S)

put(5, 424, "RSI(14)", size=S)
put(48, 424, "RSI:48.25", colour="#2a8a2a", size=S)
put(103, 424, "MA(20)", colour="#e8b27a", size=S)
put(145, 424, "37.38", colour="#c98a1c", size=S)
put(5, 528.5, "SlowSTO(3,14,3)", size=S)
put(92, 528.5, "K:58.84", colour="#4aa8f0", size=S)
put(136, 528.5, "D:51.70", colour="#e02020", size=S)
put(181, 528.5, "MA(20)", colour="#e8b27a", size=S)
put(223, 528.5, "24.01", colour="#c98a1c", size=S)
put(5, 642.5, "VOL", size=S)
put(34, 642.5, "48.67", colour="#55cc22", size=S)

# level labels over the price pane
label_y = [159, 193, 222, 246, 278, 298, 326]
label_colours = ["#2e8b1e", "#2e8b1e", "#2e8b1e", "#1f3fa0", "#ee5070", "#2e8b1e", "#2e8b1e"]
for y, s, c in zip(label_y, level_labels, label_colours):
    put(1193, y, s, colour=c, size=11.3, ha="right")

# title box
fig.add_artist(FancyBboxPatch((842.5, 86), 164, 70.5, transform=px, boxstyle="round,pad=0,rounding_size=10",
                              fc="#d6ead6", ec="#0f4038", lw=2.1, zorder=5))
put(851, 101, "2360", colour="black", size=12.6, fontweight="bold")
put(998, 101, ar("سهم الفخاريه رقم"), colour="black", size=8.5, ha="right", fontweight="bold")
put(925, 120, "24/8/2026", colour="black", size=12.4, ha="center", fontweight="bold")
put(924, 139, ar("جمال عبد الحميد"), colour="black", size=8.5, ha="center", fontweight="bold")

# value tags on the right axis
tags = [(267, 282, "19.5211", "black", "white"), (287, 302, "19.5211", "black", "white"),
        (307, 323, "19.5211", "#5f7f8f", "white"), (328, 343, "18.4450", "#0a90ff", "white"),
        (347, 363, "17.9405", "#c87f00", "black"), (367, 383, "17.6846", "#4f9a3f", "white"),
        (421, 437, "70.0000", "#ff0000", "white"), (441, 457, "53.4272", "#c87f00", "black"),
        (461, 477, "50.0000", "#6a1fc8", "white"), (488, 494, "", "#007f00", "white"),
        (492, 507, "83.0846", "#0a90ff", "white"), (512, 527, "80.0000", "#ff0000", "white"),
        (532, 547, "68.1592", "#d00000", "white"), (552, 567, "53.9022", "#c87f00", "black"),
        (572, 588, "50.0000", "#6a1fc8", "white"), (600, 615, "20.0000", "#007f00", "white"),
        (645, 661, "608.519K", "#d00000", "white")]
for top, bottom, s, fc, tc in tags:
    fig.add_artist(Rectangle((1207, top), 56, bottom - top, transform=px, fc=fc, ec="#dddddd", lw=0.7, zorder=5))
    if s:
        put(1211, (top + bottom) / 2, s, colour=tc, size=8.1)

fig.add_artist(Polygon([(1203, 237.5), (1208, 230), (1263, 230), (1263, 245), (1208, 245)], transform=px,
                       fc="#2a6b4a", ec="none", zorder=5))
put(1211, 237.5, "21.3400", colour="white", size=8.1)
fig.add_artist(Rectangle((1207, 398), 56, 16, transform=px, fc="#007f00", ec="#ffff00", lw=1.5, zorder=5))
put(1211, 406, "75.6842", colour="white", size=8.1)

fig.savefig("out.png", dpi=100, facecolor=GRAY)
